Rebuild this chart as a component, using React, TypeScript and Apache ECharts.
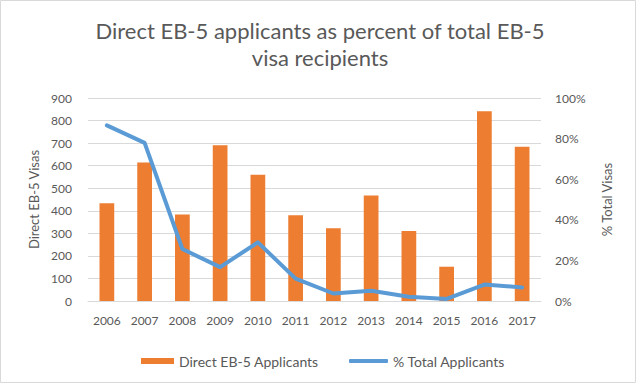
import React, { useEffect, useRef } from "react";
import * as echarts from "echarts";

const years = ["2006", "2007", "2008", "2009", "2010", "2011", "2012", "2013", "2014", "2015", "2016", "2017"];
const directApplicants = [433, 614, 384, 691, 560, 380, 323, 468, 310, 152, 841, 684];
const pctTotal = [0.865, 0.779, 0.256, 0.167, 0.289, 0.11, 0.037, 0.05, 0.021, 0.01, 0.081, 0.067];

const FONT = "Lato, sans-serif";
const TXT = "#595959";

export default function App() {
  const ref = useRef<HTMLDivElement>(null);
  useEffect(() => {
    document.body.style.margin = "0";
    const chart = echarts.init(ref.current!, null, { renderer: "svg" });
    chart.setOption({
      animation: false,
      backgroundColor: "#ffffff",
      title: {
        text: "Direct EB-5 applicants as percent of total EB-5\nvisa recipients",
        left: "center",
        top: 12,
        textStyle: { fontFamily: FONT, fontSize: 22, fontWeight: "normal", color: TXT, lineHeight: 27 },
      },
      graphic: [
        {
          type: "rect",
          shape: { x: 0.5, y: 0.5, width: 635, height: 382 },
          style: { fill: "none", stroke: "#d9d9d9", lineWidth: 1 },
          silent: true,
        },
      ],
      legend: [
        {
          data: ["Direct EB-5 Applicants"],
          left: 136,
          top: 349,
          itemWidth: 33,
          itemHeight: 6,
          icon: "rect",
          textStyle: { fontFamily: FONT, fontSize: 14, color: TXT },
        },
        {
          data: ["% Total Applicants"],
          left: 344,
          top: 349,
          itemWidth: 39,
          itemHeight: 4,
          icon: "roundRect",
          textStyle: { fontFamily: FONT, fontSize: 14, color: TXT },
        },
      ],
      grid: { left: 88, right: 99, top: 98, bottom: 84, containLabel: false },
      xAxis: {
        type: "category",
        data: years,
        axisLine: { show: true, lineStyle: { color: "#d9d9d9" } },
        axisTick: { show: false },
        axisLabel: { color: TXT, fontFamily: FONT, fontSize: 12, margin: 13, interval: 0 },
      },
      yAxis: [
        {
          type: "value",
          min: 0,
          max: 900,
          interval: 100,
          name: "Direct EB-5 Visas",
          nameLocation: "middle",
          nameGap: 47,
          nameTextStyle: { color: TXT, fontFamily: FONT, fontSize: 13 },
          axisLine: { show: false },
          axisTick: { show: false },
          axisLabel: { color: TXT, fontFamily: FONT, fontSize: 12, margin: 16 },
          splitLine: { lineStyle: { color: "#d9d9d9" } },
        },
        {
          type: "value",
          min: 0,
          max: 1,
          interval: 0.2,
          name: "% Total Visas",
          nameLocation: "middle",
          nameGap: 59,
          nameRotate: 90,
          nameTextStyle: { color: TXT, fontFamily: FONT, fontSize: 13 },
          axisLine: { show: false },
          axisTick: { show: false },
          axisLabel: {
            color: TXT,
            fontFamily: FONT,
            fontSize: 12,
            margin: 14,
            formatter: (v: number) => Math.round(v * 100) + "%",
          },
          splitLine: { show: false },
        },
      ],
      series: [
        {
          name: "Direct EB-5 Applicants",
          type: "bar",
          data: directApplicants,
          yAxisIndex: 0,
          barWidth: "39%",
          itemStyle: { color: "#ED7D31" },
        },
        {
          name: "% Total Applicants",
          type: "line",
          data: pctTotal,
          yAxisIndex: 1,
          symbol: "none",
          lineStyle: { color: "#5B9BD5", width: 4, cap: "round", join: "round" },
          itemStyle: { color: "#5B9BD5" },
        },
      ],
    });
    return () => chart.dispose();
  }, []);
  return <div ref={ref} style={{ width: 640, height: 385 }} />;
}
